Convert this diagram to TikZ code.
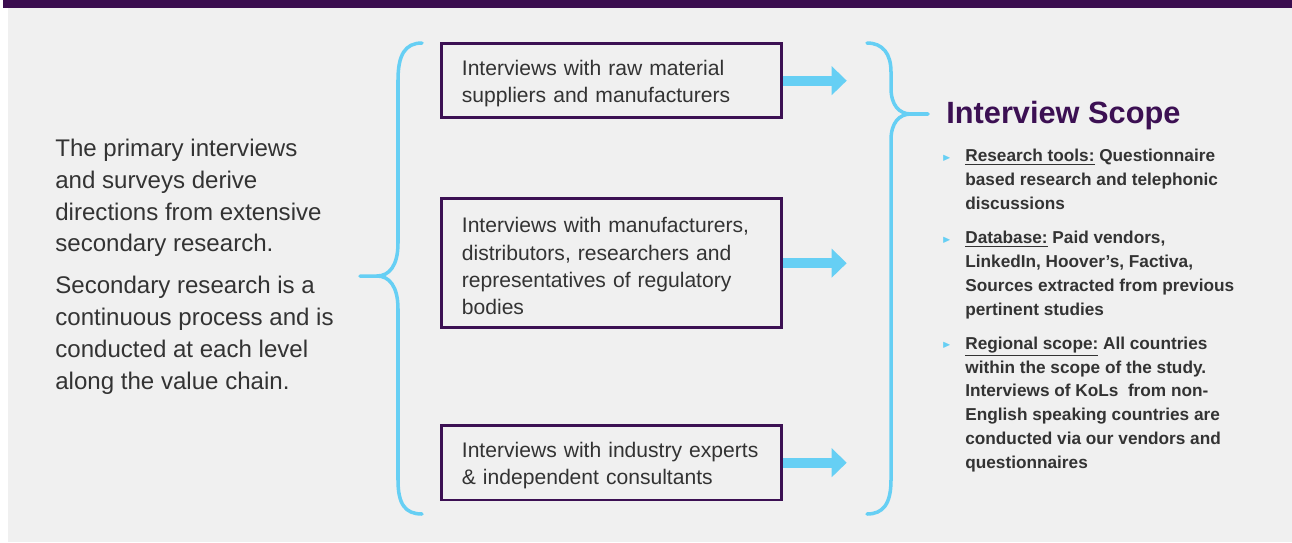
\documentclass[tikz,border=0pt]{standalone}
\usepackage{amssymb}
\usepackage{fontspec}
\setmainfont{Liberation Sans}
\usetikzlibrary{arrows.meta,positioning}
\definecolor{band}{HTML}{3B0D4F}
\definecolor{panel}{HTML}{F0F0F0}
\definecolor{ink}{HTML}{333333}
\definecolor{plum}{HTML}{3C1053}
\definecolor{sky}{HTML}{66CFF4}
\tikzset{
  interview/.style={draw=plum, line width=1.6pt, minimum width=6.8cm,
                    text width=5.98cm, align=left, inner sep=0pt, text=ink,
                    font=\fontsize{12}{15.6}\selectfont,
                    execute at begin node={\rule{0pt}{12.2pt}}},
  fatarrow/.style={-{Triangle[length=0.3cm,width=0.56cm]}, line width=0.2cm, draw=sky},
  brace/.style={draw=sky, line width=2pt, line cap=round},
  sidenote/.style={align=left, inner sep=0pt, text=ink,
                   font=\fontsize{13.7}{18.1}\selectfont},
  scopelist/.style={align=left, inner sep=0pt, text=ink,
                    font=\bfseries\fontsize{9.8}{13.6}\selectfont}
}
\newcommand{\scopebullet}{\llap{\raisebox{0.8pt}{\textcolor{sky}{\tiny$\blacktriangleright$}}\hspace{8pt}}}

\begin{document}
\begin{tikzpicture}[x=0.02cm,y=-0.02cm]
  \useasboundingbox (0,0) rectangle (1292,542);
  \fill[white] (0,0) rectangle (1292,542);
  \fill[panel] (8,8) rectangle (1292,542);
  \fill[band] (3,0) rectangle (1292,8);

  % left statement
  \node[sidenote, anchor=west] (intro) at (55,266.5) {%
    The primary interviews\\ and surveys derive\\ directions from extensive\\
    secondary research.\\[5.7pt]
    Secondary research is a\\ continuous process and is\\ conducted at each level\\
    along the value chain.};

  % interview boxes
  \node[interview, minimum height=1.49cm, anchor=north west] (raw) at (440,42)
    {Interviews with raw material\\ suppliers and manufacturers};
  \node[interview, minimum height=2.58cm, below=1.56cm of raw] (dist)
    {Interviews with manufacturers,\\ distributors, researchers and\\
     representatives of regulatory\\ bodies};
  \node[interview, minimum height=1.49cm, below=1.9cm of dist] (expert)
    {Interviews with industry experts\\ \& independent consultants};

  \coordinate[right=1.28cm of raw] (rawtip);
  \coordinate[right=1.28cm of dist] (disttip);
  \coordinate[right=1.28cm of expert] (experttip);
  \draw[fatarrow] (raw.east) -- (rawtip);
  \draw[fatarrow] (dist.east) -- (disttip);
  \draw[fatarrow] (expert.east) -- (experttip);

  % braces
  \draw[brace] (422,43) .. controls (405,43) and (398,55) .. (398,80) -- (398,243)
    .. controls (398,266) and (389,276) .. (377,276) -- (360,276);
  \draw[brace] (377,276) .. controls (389,276) and (398,286) .. (398,309) -- (398,480)
    .. controls (398,504) and (405,514) .. (422,514);
  \draw[brace] (867,43) .. controls (883,43) and (891,54) .. (891,72) -- (891,88)
    .. controls (891,105) and (899,114) .. (911,114) -- (928,114);
  \draw[brace] (911,114) .. controls (899,114) and (891,123) .. (891,140) -- (891,480)
    .. controls (891,504) and (883,514) .. (867,514);

  % interview scope
  \node[anchor=base west, inner sep=0pt, text=plum,
        font=\bfseries\fontsize{17.5}{21}\selectfont] (scope) at (946,123)
    {Interview Scope};
  \node[scopelist, anchor=north west] (scopeitems) at (965,149) {%
    \scopebullet\underline{Research tools:} Questionnaire\\ based research and telephonic\\
    discussions\\[5.7pt]
    \scopebullet\underline{Database:} Paid vendors,\\ LinkedIn, Hoover’s, Factiva,\\
    Sources extracted from previous\\ pertinent studies\\[5.7pt]
    \scopebullet\underline{Regional scope:} All countries\\ within the scope of the study.\\
    Interviews of KoLs\ \ from non-\\ English speaking countries are\\
    conducted via our vendors and\\ questionnaires};
\end{tikzpicture}
\end{document}
